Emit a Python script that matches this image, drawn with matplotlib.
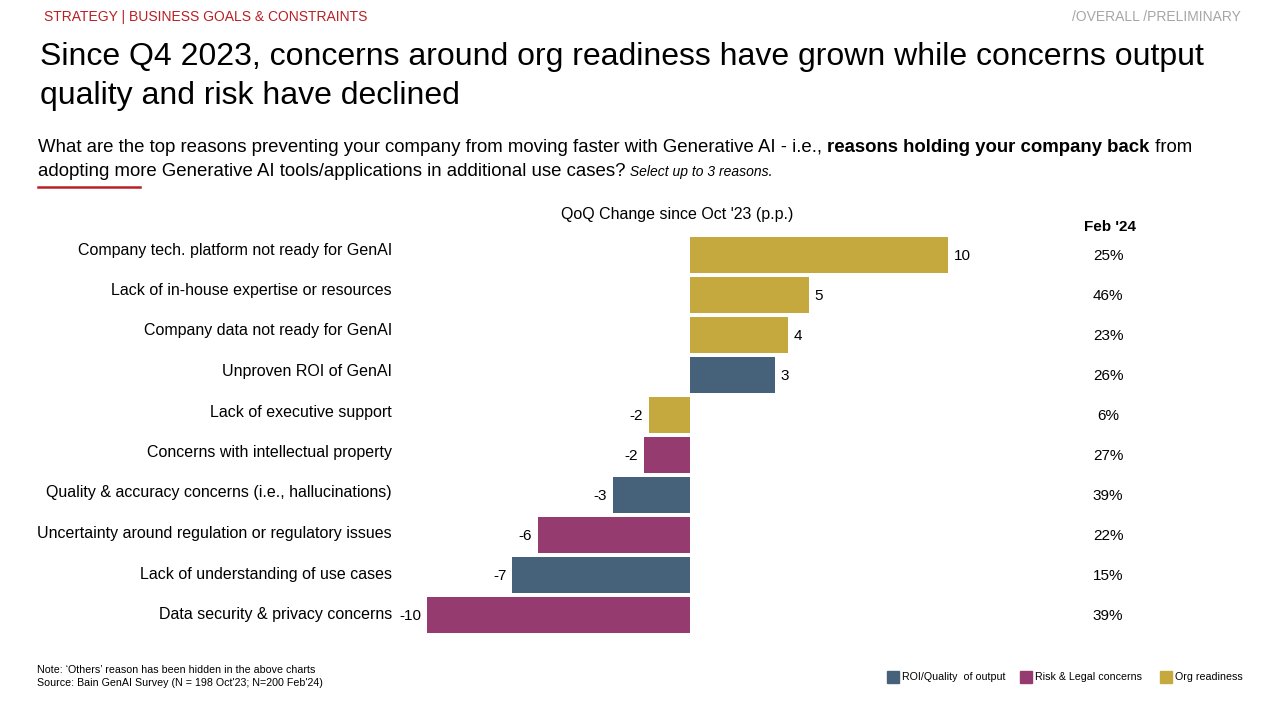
import matplotlib
matplotlib.use("Agg")
import matplotlib.pyplot as plt
from matplotlib.patches import Rectangle
from matplotlib.lines import Line2D

plt.rcParams['font.family'] = ['Liberation Sans', 'DejaVu Sans']

categories = [
    "Company tech. platform not ready for GenAI",
    "Lack of in-house expertise or resources",
    "Company data not ready for GenAI",
    "Unproven ROI of GenAI",
    "Lack of executive support",
    "Concerns with intellectual property",
    "Quality & accuracy concerns (i.e., hallucinations)",
    "Uncertainty around regulation or regulatory issues",
    "Lack of understanding of use cases",
    "Data security & privacy concerns",
]
qoq_change = [10.0, 4.6, 3.8, 3.3, -1.6, -1.8, -3.0, -5.9, -6.9, -10.2]
qoq_labels = ["10", "5", "4", "3", "-2", "-2", "-3", "-6", "-7", "-10"]
feb24 = ["25%", "46%", "23%", "26%", "6%", "27%", "39%", "22%", "15%", "39%"]
groups = ["Org", "Org", "Org", "ROI", "Org", "Risk", "ROI", "Risk", "ROI", "Risk"]
group_names = {"ROI": "ROI/Quality  of output", "Risk": "Risk & Legal concerns", "Org": "Org readiness"}
group_colors = {"ROI": "#46627A", "Risk": "#963B70", "Org": "#C5A93F"}

W, H = 1280, 720
fig = plt.figure(figsize=(12.8, 7.2), dpi=100)

def fx(px):
    return px / W

def fy(py):
    return 1 - py / H

# Header
fig.text(fx(44), fy(17), "STRATEGY | BUSINESS GOALS & CONSTRAINTS", color="#B82025",
         fontsize=10, va="center", ha="left")
fig.text(fx(1241), fy(17), "/OVERALL /PRELIMINARY", color="#A6A6A6",
         fontsize=10, va="center", ha="right")

# Title
fig.text(fx(40), fy(57), "Since Q4 2023, concerns around org readiness have grown while concerns output",
         fontsize=23, va="center", ha="left", color="black")
fig.text(fx(40), fy(96), "quality and risk have declined",
         fontsize=23, va="center", ha="left", color="black")

# Subtitle with mixed styles
t1 = fig.text(fx(38), fy(148), "What are the top reasons preventing your company from moving faster with Generative AI - i.e., ",
              fontsize=13.4, va="center", ha="left")
t2 = fig.text(0, 0, "reasons holding your company back", fontsize=13.4, fontweight="bold", va="center", ha="left")
t3 = fig.text(0, 0, " from", fontsize=13.4, va="center", ha="left")
t4 = fig.text(fx(38), fy(171), "adopting more Generative AI tools/applications in additional use cases?",
              fontsize=13.4, va="center", ha="left")
t5 = fig.text(0, 0, " Select up to 3 reasons.", fontsize=10, fontstyle="italic", va="center", ha="left")
fig.add_artist(Line2D([fx(38), fx(140)], [fy(187), fy(187)], color="#B82025", lw=1.8))

fig.canvas.draw()
r = fig.canvas.get_renderer()
def place_after(prev, nxt, y):
    bb = prev.get_window_extent(renderer=r)
    nxt.set_position((bb.x1 / W, fy(y)))
place_after(t1, t2, 148)
fig.canvas.draw()
place_after(t2, t3, 148)
place_after(t4, t5, 172)

# Main axes
zero_px = 690
ppu = 25.8
ax_left_px, ax_right_px = 400, 1000
ax_top_px, ax_bot_px = 235, 635
ax = fig.add_axes([fx(ax_left_px), fy(ax_bot_px), (ax_right_px - ax_left_px) / W, (ax_bot_px - ax_top_px) / H])
ax.set_xlim((ax_left_px - zero_px) / ppu, (ax_right_px - zero_px) / ppu)
ax.set_ylim(len(categories) - 0.5, -0.5)
ax.axis("off")

ypos = list(range(len(categories)))
colors = [group_colors[g] for g in groups]
ax.barh(ypos, qoq_change, height=0.9, color=colors, edgecolor="none")

for y, v, lab in zip(ypos, qoq_change, qoq_labels):
    if v >= 0:
        ax.annotate(lab, (v, y), xytext=(4, -1), textcoords="offset points",
                    ha="left", va="center", fontsize=11)
    else:
        ax.annotate(lab, (v, y), xytext=(-4, -1), textcoords="offset points",
                    ha="right", va="center", fontsize=11)

# Category labels
for y, c in zip(ypos, categories):
    fig.text(fx(392), fy(250 + 40.5 * y), c, ha="right", va="center", fontsize=11.5)

# Right column
fig.text(fx(1110), fy(227), "Feb '24", ha="center", va="center", fontsize=11, fontweight="bold")
for y, p in zip(ypos, feb24):
    fig.text(fx(1108), fy(256 + 40 * y), p, ha="center", va="center", fontsize=11)

fig.text(fx(677), fy(214), "QoQ Change since Oct '23 (p.p.)", ha="center", va="center", fontsize=11.5)

# Notes
fig.text(fx(37), fy(670), "Note: \u2018Others\u2019 reason has been hidden in the above charts",
         fontsize=7.7, ha="left", va="center")
fig.text(fx(37), fy(683), "Source: Bain GenAI Survey (N = 198 Oct'23; N=200 Feb'24)",
         fontsize=7.7, ha="left", va="center")

# Legend
leg_items = [("ROI", 887), ("Risk", 1020), ("Org", 1160)]
for key, xp in leg_items:
    fig.add_artist(Rectangle((fx(xp), fy(683)), 12 / W, 12 / H, color=group_colors[key],
                             transform=fig.transFigure))
    fig.text(fx(xp + 15), fy(677), group_names[key], fontsize=7.7, ha="left", va="center")

fig.savefig("out.png", dpi=100, facecolor="white")
